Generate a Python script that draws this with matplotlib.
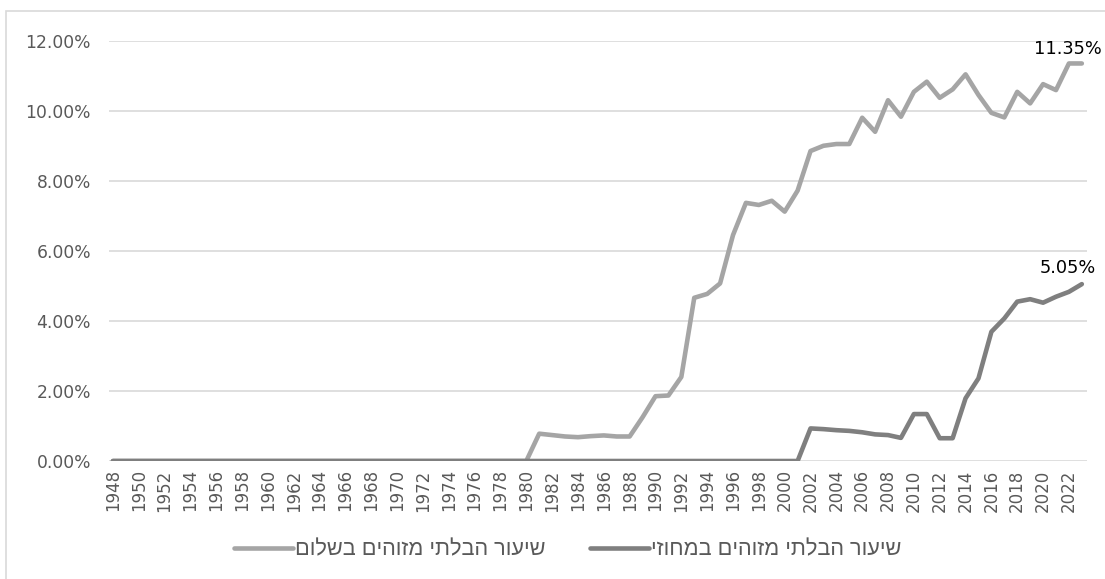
import matplotlib
matplotlib.use("Agg")
import matplotlib.pyplot as plt
from matplotlib.patches import Rectangle
from matplotlib.ticker import FuncFormatter

years = list(range(1948, 2024))

# Unidentified rate - peace (light gray)
peace_late = {
    1980: 0.0, 1981: 0.78, 1982: 0.74, 1983: 0.70, 1984: 0.68, 1985: 0.71,
    1986: 0.73, 1987: 0.70, 1988: 0.70, 1989: 1.25, 1990: 1.85, 1991: 1.87,
    1992: 2.40, 1993: 4.66, 1994: 4.77, 1995: 5.07, 1996: 6.45, 1997: 7.37,
    1998: 7.31, 1999: 7.43, 2000: 7.12, 2001: 7.72, 2002: 8.85, 2003: 9.00,
    2004: 9.05, 2005: 9.05, 2006: 9.80, 2007: 9.40, 2008: 10.30, 2009: 9.83,
    2010: 10.54, 2011: 10.83, 2012: 10.37, 2013: 10.61, 2014: 11.04,
    2015: 10.45, 2016: 9.94, 2017: 9.81, 2018: 10.54, 2019: 10.21,
    2020: 10.76, 2021: 10.59, 2022: 11.35, 2023: 11.35,
}
peace = [peace_late.get(y, 0.0) for y in years]

# Unidentified rate - reserve service (dark gray)
reserve_late = {
    2001: 0.0, 2002: 0.93, 2003: 0.91, 2004: 0.88, 2005: 0.86, 2006: 0.82,
    2007: 0.76, 2008: 0.74, 2009: 0.66, 2010: 1.34, 2011: 1.34, 2012: 0.65,
    2013: 0.65, 2014: 1.79, 2015: 2.36, 2016: 3.69, 2017: 4.07, 2018: 4.55,
    2019: 4.62, 2020: 4.52, 2021: 4.69, 2022: 4.83, 2023: 5.05,
}
reserve = [reserve_late.get(y, 0.0) for y in years]

label_peace = "שיעור הבלתי מזוהים בשלום"
label_reserve = "שיעור הבלתי מזוהים במחוזי"

yticks = [0, 2, 4, 6, 8, 10, 12]
xticks = list(range(1948, 2023, 2))

W, H = 1105, 579
fig = plt.figure(figsize=(W / 100, H / 100), dpi=100)
plt.rcParams['font.family'] = ['DejaVu Sans']

# chart-area border (top and left visible)
fig.patches.append(Rectangle((6 / W, -0.1), 1.2, 1 - 11 / H + 0.1,
                             transform=fig.transFigure, fill=False,
                             edgecolor='#d9d9d9', linewidth=1.2))

left, right, top, bottom = 109, 1087, 40.7, 461
ax = fig.add_axes([left / W, 1 - bottom / H, (right - left) / W, (bottom - top) / H])

c_light = '#a5a5a5'
c_dark = '#7f7f7f'
l1, = ax.plot(years, peace, color=c_light, lw=3.3, solid_joinstyle='round',
              solid_capstyle='round', label=label_peace[::-1])
l2, = ax.plot(years, reserve, color=c_dark, lw=3.3, solid_joinstyle='round',
              solid_capstyle='round', label=label_reserve[::-1])

ax.set_xlim(1947.7, 2023.4)
ax.set_ylim(0, 12)
ax.set_yticks(yticks)
ax.yaxis.set_major_formatter(FuncFormatter(lambda v, p: f"{v:.2f}%"))
ax.set_xticks(xticks)
ax.set_xticklabels([str(x) for x in xticks], rotation=90)
ax.tick_params(axis='both', length=0, labelcolor='#595959')
ax.tick_params(axis='y', pad=13, labelsize=12.3)
ax.tick_params(axis='x', pad=6, labelsize=12)
for s in ax.spines.values():
    s.set_visible(False)
ax.grid(axis='y', color='#d9d9d9', linewidth=1.2)
ax.set_axisbelow(True)

ax.annotate(f"{peace[-1]:.2f}%", xy=(years[-1], peace[-1]), xytext=(-14, 5),
            textcoords='offset pixels', ha='center', va='bottom',
            fontsize=12.8, color='black', annotation_clip=False)
ax.annotate(f"{reserve[-1]:.2f}%", xy=(years[-1], reserve[-1]), xytext=(-14, 7),
            textcoords='offset pixels', ha='center', va='bottom',
            fontsize=12.8, color='black', annotation_clip=False)

fig.legend(handles=[l1, l2], loc='center', bbox_to_anchor=(567.5 / W, 1 - 550 / H),
           ncol=2, frameon=False, prop={'family': ['Liberation Sans', 'DejaVu Sans'], 'size': 15.7},
           labelcolor='#595959', handlelength=2.7, handletextpad=0.1, columnspacing=2.05)

fig.savefig("out.png", dpi=100)
